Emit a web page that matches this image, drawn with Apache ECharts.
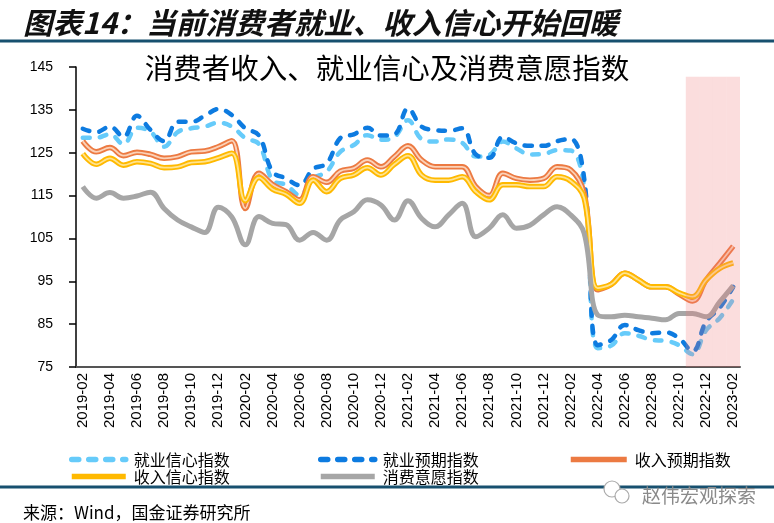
<!DOCTYPE html>
<html><head><meta charset="utf-8">
<script src="https://cdn.jsdelivr.net/npm/echarts@6/dist/echarts.min.js"></script>
<style>html,body{margin:0;padding:0;background:#fff}#c{width:774px;height:523px}</style>
</head><body><div id="c"></div>
<script>
const months = ['2019-02','2019-03','2019-04','2019-05','2019-06','2019-07','2019-08','2019-09','2019-10','2019-11','2019-12',
'2020-01','2020-02','2020-03','2020-04','2020-05','2020-06','2020-07','2020-08','2020-09','2020-10','2020-11','2020-12',
'2021-01','2021-02','2021-03','2021-04','2021-05','2021-06','2021-07','2021-08','2021-09','2021-10','2021-11','2021-12',
'2022-01','2022-02','2022-03','2022-04','2022-05','2022-06','2022-07','2022-08','2022-09','2022-10','2022-11','2022-12',
'2023-01','2023-02'];
const jobConfidence = [128.5,128.5,129.3,127.0,130.8,129.9,126.4,129.8,130.7,131.1,132.0,131.1,128.4,127.0,118.6,117.5,115.1,119.0,120.6,125.2,126.8,129.1,128.0,128.7,132.6,128.2,127.6,128.1,127.3,124.1,124.5,127.6,126.0,124.6,124.7,125.6,125.5,117.0,79.4,80.0,82.9,82.3,81.3,81.1,80.1,78.0,83.6,86.4,90.8];
const jobExpectation = [130.6,129.8,131.1,128.7,133.6,130.3,127.7,132.2,132.2,133.6,135.2,133.8,130.7,129.0,120.6,119.0,117.4,121.2,122.5,128.4,129.3,130.8,129.0,129.3,135.3,131.1,130.3,130.1,130.7,124.6,123.8,128.7,127.2,126.6,126.6,127.7,128.2,119.0,80.1,81.3,84.8,83.6,82.9,83.1,81.7,78.7,85.6,88.8,93.7];
const incomeExpectation = [127.7,125.2,126.2,124.3,125.1,124.6,123.7,124.1,125.2,125.4,126.4,127.8,112.0,120.2,117.6,115.9,114.0,119.4,118.1,120.7,121.4,123.3,121.7,124.1,126.6,123.3,121.7,121.7,121.7,117.1,115.0,120.2,119.0,118.6,119.0,121.7,121.0,115.5,93.0,94.3,96.9,95.3,93.7,93.7,92.0,90.4,95.3,99.2,103.2];
const incomeConfidence = [124.8,122.3,123.7,122.1,122.9,122.5,121.5,121.7,122.7,122.9,123.8,124.9,113.8,119.2,116.5,115.3,113.2,118.6,115.9,119.0,119.8,121.5,119.8,122.3,124.3,119.8,118.6,118.6,119.4,115.9,114.0,117.5,117.5,117.1,117.1,119.4,118.4,114.4,93.4,94.3,96.9,95.3,93.7,93.7,92.3,91.4,95.3,98.0,99.3];
const consumeWillingness = [117.1,114.4,115.7,114.4,114.9,115.8,112.0,109.3,107.7,106.4,112.3,110.0,103.5,110.1,108.5,108.2,104.6,106.4,104.6,109.3,111.2,114.0,112.8,109.3,113.8,109.7,107.7,110.5,113.2,105.4,107.4,110.5,107.4,108.1,110.5,112.4,110.5,106.2,87.1,86.7,87.1,86.7,86.4,86.0,87.5,87.5,86.7,90.2,94.0];
const yMin = 75, yMax = 145, yStep = 10;
const highlightFrom = '2022-11';
const highlightTop = 142.7;

const highlight = months.map(m => (m >= highlightFrom ? highlightTop : null));
const cjk = '"Noto Sans CJK SC", sans-serif';
const num = '"Liberation Sans", Arial, sans-serif';

function dashed(name, data, color) {
  return { name, type: 'line', data, symbol: 'none', smooth: 0.4,
    lineStyle: { color, width: 4.5, type: [7, 10], cap: 'round' }, itemStyle: { color } };
}
function compound(name, data, outer, inner) {
  return [
    { name, type: 'line', data, symbol: 'none', smooth: 0.4,
      lineStyle: { color: outer, width: 5.5 }, itemStyle: { color: outer } },
    { name: name + '-inner', type: 'line', data, symbol: 'none', smooth: 0.4,
      lineStyle: { color: inner, width: 1.8 }, itemStyle: { color: inner } }
  ];
}

const chart = echarts.init(document.getElementById('c'));
const legendText = { fontFamily: cjk, fontSize: 16, color: '#000', padding: [0, 0, 0, 3], lineHeight: 17 };
const legendBase = { orient: 'vertical', itemHeight: 12, itemGap: 0, top: 446, textStyle: legendText,
  itemStyle: { opacity: 0 }, lineStyle: { width: 5.5 } };
chart.setOption({
  animation: false,
  backgroundColor: '#fff',
  title: [
    { text: '图表14：当前消费者就业、收入信心开始回暖', left: 18, top: 3,
      textStyle: { fontFamily: cjk, fontSize: 29.5, fontWeight: 'bold', fontStyle: 'italic', color: '#111' } },
    { text: '消费者收入、就业信心及消费意愿指数', left: 'center', top: 49,
      textStyle: { fontFamily: cjk, fontSize: 28.5, fontWeight: 'normal', color: '#000' } },
    { text: '来源：Wind，国金证券研究所', left: 18, top: 499,
      textStyle: { fontFamily: cjk, fontSize: 17, fontWeight: 'normal', color: '#000' } },
    { text: '赵伟宏观探索', left: 637, top: 481,
      textStyle: { fontFamily: cjk, fontSize: 19, fontWeight: 'normal', color: '#8a8a8a' } }
  ],
  graphic: [
    { type: 'line', shape: { x1: 0, y1: 41, x2: 774, y2: 41 }, style: { stroke: '#17506f', lineWidth: 3 } },
    { type: 'line', shape: { x1: 0, y1: 487, x2: 774, y2: 487 }, style: { stroke: '#17506f', lineWidth: 3 }, z: 0 },
    { type: 'circle', shape: { cx: 612, cy: 489, r: 8 }, style: { fill: '#fff', stroke: '#aaa', lineWidth: 1.2 } },
    { type: 'circle', shape: { cx: 622, cy: 496, r: 7 }, style: { fill: '#fff', stroke: '#aaa', lineWidth: 1.2 } }
  ],
  legend: [
    Object.assign({ data: ['就业信心指数', '收入信心指数'], left: 64, itemWidth: 54 }, legendBase),
    Object.assign({ data: ['就业预期指数', '消费意愿指数'], left: 313, itemWidth: 54 }, legendBase),
    Object.assign({ data: ['收入预期指数'], left: 563, itemWidth: 56 }, legendBase)
  ],
  grid: { left: 76, right: 34, top: 67, bottom: 156, containLabel: false },
  xAxis: {
    type: 'category', data: months, boundaryGap: true,
    axisLine: { lineStyle: { color: '#555', width: 2 } },
    axisTick: { interval: 1, length: 5, lineStyle: { color: '#333', width: 1.5 } },
    axisLabel: { interval: 1, rotate: 90, margin: 6, fontFamily: num, fontSize: 15, color: '#000' },
    splitLine: { show: false }
  },
  yAxis: {
    type: 'value', min: yMin, max: yMax, interval: yStep,
    axisLine: { show: true, lineStyle: { color: '#000', width: 1.5 } },
    axisTick: { show: true, length: 7, lineStyle: { color: '#000', width: 1.5 } },
    axisLabel: { margin: 23, fontFamily: num, fontSize: 14, color: '#000' },
    splitLine: { show: false }
  },
  series: [
    dashed('就业信心指数', jobConfidence, '#66cbfa'),
    dashed('就业预期指数', jobExpectation, '#0d7be0'),
    ...compound('收入预期指数', incomeExpectation, '#ec7a42', '#fbd2b8'),
    ...compound('收入信心指数', incomeConfidence, '#ffb900', '#ffe38f'),
    { name: '消费意愿指数', type: 'line', data: consumeWillingness, symbol: 'none', smooth: 0.4,
      lineStyle: { color: '#a6a6a6', width: 5 }, itemStyle: { color: '#a6a6a6' } },
    { name: 'highlight', type: 'bar', data: highlight, barWidth: '100%', barGap: '-100%', z: 5, clip: true,
      itemStyle: { color: 'rgba(240,120,120,0.25)' }, silent: true }
  ]
});
</script></body></html>
